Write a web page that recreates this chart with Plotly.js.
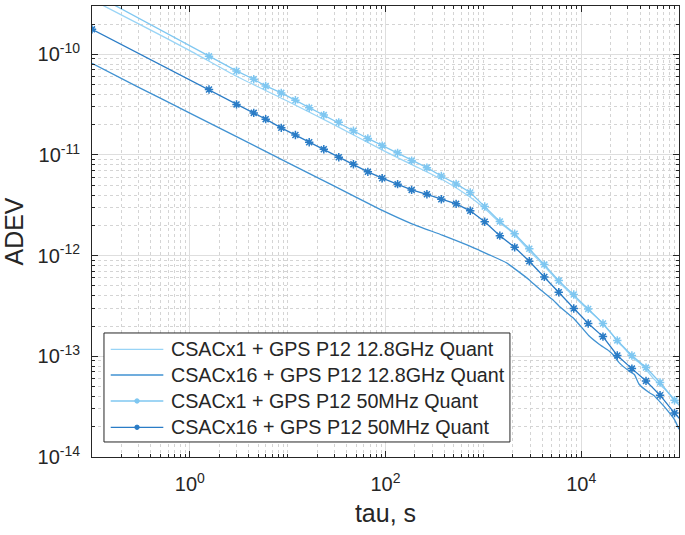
<!DOCTYPE html>
<html>
<head>
<meta charset="utf-8">
<script src="https://cdn.plot.ly/plotly-3.0.1.min.js"></script>
<style>html,body{margin:0;padding:0;background:#fff;}#chart{width:685px;height:535px;}</style>
</head>
<body>
<div id="chart"></div>
<script>
// ---- data ----
const seriesNames = [
  'CSACx1 + GPS P12 12.8GHz Quant',
  'CSACx16 + GPS P12 12.8GHz Quant',
  'CSACx1 + GPS P12 50MHz Quant',
  'CSACx16 + GPS P12 50MHz Quant'
];

// CSACx1 + GPS P12 12.8GHz Quant (dense, no markers)
const tauX1Ghz = [0.1, 0.3, 1, 3, 10, 30, 100, 200, 400, 700, 1000, 1500, 2000, 3000, 4000, 6000, 8500,
  12000, 15000, 17000, 20000, 24000, 28000, 33000, 40000, 46000, 55000, 64000, 72000, 80000, 90000, 100000];
const adevX1Ghz = [3.48e-10, 2.01e-10, 1.09e-10, 6.05e-11, 3.42e-11, 1.99e-11, 1.08e-11, 7.76e-12, 5.55e-12,
  3.93e-12, 3.02e-12, 2.1e-12, 1.68e-12, 1.1e-12, 8.3e-13, 5.4e-13, 3.9e-13,
  2.85e-13, 2.35e-13, 2.05e-13, 1.72e-13, 1.38e-13, 1.18e-13, 9.8e-14, 8.5e-14, 7.4e-14, 6.0e-14, 5.2e-14,
  4.7e-14, 4.2e-14, 3.7e-14, 3.45e-14];

// CSACx16 + GPS P12 12.8GHz Quant (dense, no markers)
const tauX16Ghz = [0.1, 0.3, 1, 3, 10, 30, 87, 189, 380, 720, 910, 1150, 1720, 2930, 3700, 5100, 5960, 8200,
  9540, 12000, 15270, 19300, 21500, 24400, 30900, 35000, 39100, 49400, 55000, 62500, 70000, 79100, 90000, 100000];
const adevX16Ghz = [8.15e-11, 4.7e-11, 2.61e-11, 1.52e-11, 8.4e-12, 4.9e-12, 2.9e-12, 2.06e-12, 1.6e-12,
  1.25e-12, 1.13e-12, 1.02e-12, 8.5e-13, 5.78e-13, 4.71e-13, 3.66e-13, 3.15e-13, 2.43e-13,
  2.07e-13, 1.6e-13, 1.32e-13, 1.13e-13, 1.02e-13, 8.66e-14, 7.15e-14, 6.6e-14, 5.28e-14, 4.37e-14,
  4.1e-14, 3.61e-14, 3.2e-14, 2.77e-14, 2.35e-14, 1.89e-14];

// 50MHz series (sparse, markers at each point)
const tauMhz = [0.1, 1.57, 3.0, 4.5, 5.96, 8.6, 12, 16.6, 23.4, 33.3, 47, 66, 92.5, 133, 185, 265, 372, 527,
  735, 1033, 1475, 2090, 2950, 4200, 5900, 8400, 11800, 16700, 23400, 33000, 46000, 64000, 90000, 126000];
const adevX1Mhz = [4.06e-10, 9.55e-11, 6.84e-11, 5.65e-11, 4.85e-11, 4.14e-11, 3.5e-11, 2.94e-11, 2.49e-11,
  2.11e-11, 1.74e-11, 1.46e-11, 1.24e-11, 1.05e-11, 8.8e-12, 7.49e-12, 6.19e-12, 5.16e-12,
  4.24e-12, 3.08e-12, 2.19e-12, 1.65e-12, 1.17e-12, 8.15e-13, 5.65e-13, 4.11e-13, 2.96e-13, 2.12e-13,
  1.44e-13, 1.02e-13, 7.73e-14, 5.5e-14, 3.66e-14, 2.6e-14];
const adevX16Mhz = [1.77e-10, 4.47e-11, 3.18e-11, 2.62e-11, 2.27e-11, 1.86e-11, 1.58e-11, 1.34e-11, 1.14e-11,
  9.5e-12, 8.1e-12, 6.8e-12, 5.88e-12, 5.13e-12, 4.5e-12, 4.07e-12, 3.63e-12, 3.27e-12,
  2.79e-12, 2.17e-12, 1.58e-12, 1.21e-12, 8.8e-13, 6.15e-13, 4.33e-13, 2.99e-13, 2.12e-13, 1.57e-13,
  1.02e-13, 7.55e-14, 5.7e-14, 4.11e-14, 2.73e-14, 1.9e-14];

const xMajorTicks = [1, 100, 10000];
const xTickText = ['10<sup>0</sup>', '10<sup>2</sup>', '10<sup>4</sup>'];
const yMajorTicks = [1e-14, 1e-13, 1e-12, 1e-11, 1e-10];
const yTickText = ['10<sup>-14</sup>', '10<sup>-13</sup>', '10<sup>-12</sup>', '10<sup>-11</sup>', '10<sup>-10</sup>'];

// ---- styles ----
const colors = ['#98d4f6', '#4092d2', '#7fc7f1', '#2a7cc6'];
const withMarkers = [false, false, true, true];
const fontFam = '"Liberation Sans", Arial, Helvetica, sans-serif';
const txt = '#262626';

// minor tick positions (all log digits not on the major ticks)
const xMinor = [];
for (let e = -1; e <= 5; e++) {
  for (let d = 1; d <= 9; d++) {
    const v = d * Math.pow(10, e);
    if (xMajorTicks.some(m => Math.abs(m - v) / m < 1e-9)) continue;
    xMinor.push(v);
  }
}
const yMinor = [];
for (let e = -14; e <= -10; e++) {
  for (let d = 2; d <= 9; d++) yMinor.push(d * Math.pow(10, e));
}

const xs = [tauX1Ghz, tauX16Ghz, tauMhz, tauMhz];
const ys = [adevX1Ghz, adevX16Ghz, adevX1Mhz, adevX16Mhz];
const traces = seriesNames.map((n, i) => {
  const t = {x: xs[i], y: ys[i], name: n, mode: withMarkers[i] ? 'lines+markers' : 'lines',
    line: {color: colors[i], width: 1.3, shape: 'spline', smoothing: 0.4}, showlegend: false};
  if (withMarkers[i]) {
    t.line.shape = 'linear';
    t.marker = {symbol: 'asterisk-open', size: 7, line: {color: colors[i], width: 1.5}};
  }
  return t;
});

// ---- legend drawn as a box in paper coordinates ----
const lg = {x0: 0.0204, x1: 0.712, y0: 0.0333, y1: 0.275,
  rows: [0.2388, 0.1818, 0.1242, 0.0659], sx0: 0.0319, sx1: 0.1215, sxm: 0.0767, tx: 0.1317};
const shapes = [{type: 'rect', xref: 'paper', yref: 'paper', x0: lg.x0, x1: lg.x1, y0: lg.y0, y1: lg.y1,
  line: {color: txt, width: 1}, fillcolor: '#ffffff', layer: 'above'}];
const annotations = [];
seriesNames.forEach((n, i) => {
  const yy = lg.rows[i];
  shapes.push({type: 'line', xref: 'paper', yref: 'paper', x0: lg.sx0, x1: lg.sx1, y0: yy, y1: yy,
    line: {color: colors[i], width: 1.3}, layer: 'above'});
  if (withMarkers[i]) {
    shapes.push({type: 'circle', xref: 'paper', yref: 'paper', xsizemode: 'pixel', ysizemode: 'pixel',
      xanchor: lg.sxm, yanchor: yy, x0: -2.2, x1: 2.2, y0: -2.2, y1: 2.2,
      fillcolor: colors[i], line: {color: colors[i], width: 1}, layer: 'above'});
  }
  annotations.push({xref: 'paper', yref: 'paper', x: lg.tx, y: yy, xanchor: 'left', yanchor: 'middle',
    text: n, showarrow: false, font: {family: fontFam, size: 19.7, color: txt}});
});

const layout = {
  width: 685, height: 535,
  margin: {l: 92, r: 6, t: 6, b: 78},
  paper_bgcolor: '#ffffff', plot_bgcolor: '#ffffff',
  font: {family: fontFam, size: 19, color: txt},
  showlegend: false,
  shapes: shapes,
  annotations: annotations,
  xaxis: {
    type: 'log', range: [-1, 5],
    tickmode: 'array', tickvals: xMajorTicks, ticktext: xTickText,
    ticks: 'inside', ticklen: 6, tickcolor: txt, tickwidth: 1,
    showline: true, linecolor: txt, linewidth: 1, mirror: 'ticks',
    showgrid: true, gridcolor: '#dedede', gridwidth: 1,
    zeroline: false, ticklabelstandoff: 9,
    minor: {tickmode: 'array', tickvals: xMinor, ticks: 'inside', ticklen: 3, tickcolor: txt,
      showgrid: true, gridcolor: '#d4d4d4', griddash: 'dot', gridwidth: 1},
    title: {text: 'tau, s', font: {family: fontFam, size: 25, color: txt}, standoff: 10},
    tickfont: {family: fontFam, size: 20, color: txt}
  },
  yaxis: {
    type: 'log', range: [-14, -9.52],
    tickmode: 'array', tickvals: yMajorTicks, ticktext: yTickText,
    ticks: 'inside', ticklen: 6, tickcolor: txt, tickwidth: 1,
    showline: true, linecolor: txt, linewidth: 1, mirror: 'ticks',
    showgrid: true, gridcolor: '#dedede', gridwidth: 1,
    zeroline: false, ticklabelstandoff: 7,
    minor: {tickmode: 'array', tickvals: yMinor, ticks: 'inside', ticklen: 3, tickcolor: txt,
      showgrid: true, gridcolor: '#d4d4d4', griddash: 'dot', gridwidth: 1},
    title: {text: 'ADEV', font: {family: fontFam, size: 25, color: txt}, standoff: 8},
    tickfont: {family: fontFam, size: 20, color: txt}
  }
};

Plotly.newPlot('chart', traces, layout, {displayModeBar: false, staticPlot: true});
</script>
</body>
</html>
